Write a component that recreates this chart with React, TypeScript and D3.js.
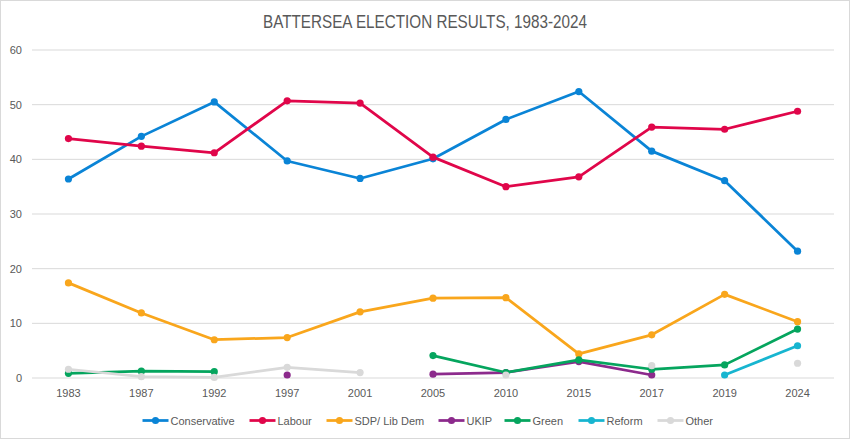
import React from "react";
import * as d3 from "d3";

const years = ["1983", "1987", "1992", "1997", "2001", "2005", "2010", "2015", "2017", "2019", "2024"];

const conservative = [36.4, 44.2, 50.5, 39.7, 36.5, 40.1, 47.3, 52.4, 41.5, 36.1, 23.2];
const labour = [43.8, 42.4, 41.2, 50.7, 50.3, 40.4, 35.0, 36.8, 45.9, 45.5, 48.8];
const libDem = [17.4, 11.9, 7.0, 7.4, 12.1, 14.6, 14.7, 4.4, 7.9, 15.3, 10.3];
const ukip = [null, null, null, 0.55, null, 0.7, 1.0, 3.0, 0.55, null, null];
const green = [0.85, 1.25, 1.15, null, null, 4.1, 1.0, 3.3, 1.6, 2.4, 8.95];
const reform = [null, null, null, null, null, null, null, null, null, 0.55, 5.9];
const other = [1.6, 0.25, 0.1, 1.95, 1.0, null, 0.55, null, 2.25, null, 2.7];

const yTicks = [0, 10, 20, 30, 40, 50, 60];

const series = [
  { name: "Conservative", color: "#0A84D6", values: conservative },
  { name: "Labour", color: "#E0064A", values: labour },
  { name: "SDP/ Lib Dem", color: "#F9A61C", values: libDem },
  { name: "UKIP", color: "#8C2A8C", values: ukip },
  { name: "Green", color: "#05A55E", values: green },
  { name: "Reform", color: "#17B5D0", values: reform },
  { name: "Other", color: "#D9D9D9", values: other },
];

const W = 851;
const H = 440;
const plot = { left: 32, right: 834, top: 50, bottom: 378 };
const font = "'Liberation Sans', Arial, sans-serif";
const textColor = "#595959";

export default function App() {
  const x = d3.scaleBand().domain(years).range([plot.left, plot.right]);
  const y = d3.scaleLinear().domain([0, 60]).range([plot.bottom, plot.top]);
  const cx = (yr) => x(yr) + x.bandwidth() / 2;

  const line = d3
    .line()
    .defined((d) => d.v != null)
    .x((d) => cx(d.year))
    .y((d) => y(d.v));

  // legend layout: symbol 26px, text right after, gaps between items
  const legendWidths = [63, 33, 68, 22, 30, 35, 27];
  const sym = 28;
  const gap = 16;
  const total = legendWidths.reduce((a, w) => a + sym + w + gap, 0) - gap;
  let lx = (W - total) / 2 + 2;
  const legendItems = series.map((s, i) => {
    const item = { ...s, x: lx };
    lx += sym + legendWidths[i] + gap;
    return item;
  });

  return (
    <div style={{ position: "absolute", left: 0, top: 0 }}>
      <svg width={W} height={H} style={{ display: "block", fontFamily: font }}>
        <rect x={0.5} y={0.5} width={W - 2} height={H - 2} fill="#fff" stroke="#d9d9d9" />
        {/* narrow title: squeeze regular face to the reference width */}
        <text
          x={263}
          y={28}
          fontSize={17.5}
          fill={textColor}
          textLength={324}
          lengthAdjust="spacingAndGlyphs"
        >
          BATTERSEA ELECTION RESULTS, 1983-2024
        </text>

        {/* grid + y labels */}
        {yTicks.map((t) => (
          <g key={t}>
            <line x1={plot.left} x2={plot.right} y1={y(t)} y2={y(t)} stroke="#d9d9d9" strokeWidth={1} />
            <text x={22} y={y(t) + 4} textAnchor="end" fontSize={11} fill={textColor}>
              {t}
            </text>
          </g>
        ))}

        {/* x labels */}
        {years.map((yr) => (
          <text key={yr} x={cx(yr)} y={397} textAnchor="middle" fontSize={11} fill={textColor}>
            {yr}
          </text>
        ))}

        {/* series */}
        {series.map((s) => {
          const pts = years.map((yr, i) => ({ year: yr, v: s.values[i] }));
          return (
            <g key={s.name}>
              <path d={line(pts)} fill="none" stroke={s.color} strokeWidth={2.75} strokeLinejoin="round" />
              {pts
                .filter((p) => p.v != null)
                .map((p) => (
                  <circle key={p.year} cx={cx(p.year)} cy={y(p.v)} r={3.6} fill={s.color} />
                ))}
            </g>
          );
        })}

        {/* legend */}
        {legendItems.map((s) => (
          <g key={s.name} transform={`translate(${s.x},420.5)`}>
            <line x1={0} x2={26} y1={0} y2={0} stroke={s.color} strokeWidth={2.75} />
            <circle cx={13} cy={0} r={3.6} fill={s.color} />
            <text x={sym} y={4} fontSize={11} fill={textColor}>
              {s.name}
            </text>
          </g>
        ))}
      </svg>
    </div>
  );
}
